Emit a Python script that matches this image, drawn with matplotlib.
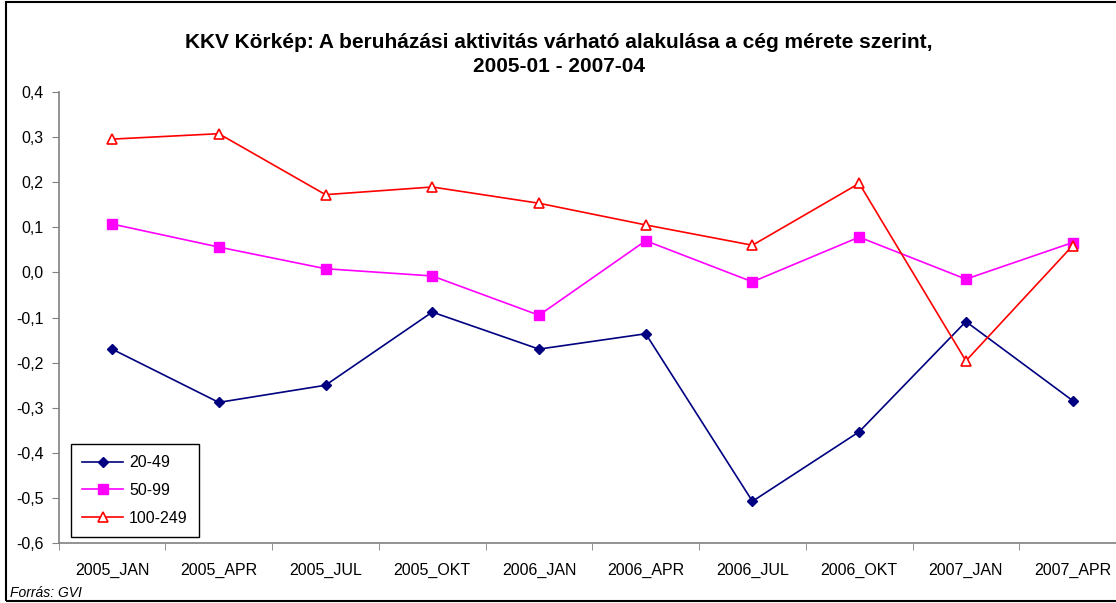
import matplotlib

matplotlib.use("Agg")
import matplotlib.pyplot as plt
from matplotlib.patches import Rectangle

plt.rcParams["font.family"] = ["Liberation Sans", "DejaVu Sans"]

categories = ["2005_JAN", "2005_APR", "2005_JUL", "2005_OKT", "2006_JAN",
              "2006_APR", "2006_JUL", "2006_OKT", "2007_JAN", "2007_APR"]
s_20_49 = [-0.170, -0.288, -0.250, -0.088, -0.170, -0.136, -0.507, -0.353, -0.109, -0.284]
s_50_99 = [0.107, 0.056, 0.008, -0.008, -0.095, 0.070, -0.021, 0.078, -0.015, 0.066]
s_100_249 = [0.295, 0.307, 0.172, 0.189, 0.153, 0.105, 0.060, 0.197, -0.196, 0.059]
y_ticks = [-0.6, -0.5, -0.4, -0.3, -0.2, -0.1, 0.0, 0.1, 0.2, 0.3, 0.4]
y_tick_labels = ["-0,6", "-0,5", "-0,4", "-0,3", "-0,2", "-0,1", "0,0", "0,1", "0,2", "0,3", "0,4"]

W, H = 1116, 603
fig = plt.figure(figsize=(W / 100, H / 100), dpi=100)

# outer chart frame (right side runs off the picture)
fig.patches.append(Rectangle((6 / W, 1 - 601 / H), 1.2, (601 - 2) / H,
                             transform=fig.transFigure, fill=False,
                             edgecolor="black", linewidth=1.5))

left, right, top, bottom = 58.7, 1126, 91.7, 543.3
ax = fig.add_axes([left / W, 1 - bottom / H, (right - left) / W, (bottom - top) / H])

x = list(range(len(categories)))
ax.plot(x, s_20_49, color="#000080", marker="D", markersize=5, linewidth=1.2, label="20-49")
ax.plot(x, s_50_99, color="#FF00FF", marker="s", markersize=6.5, linewidth=1.2, label="50-99")
ax.plot(x, s_100_249, color="#FF0000", marker="^", markersize=7, markerfacecolor="white",
        markeredgewidth=1.2, linewidth=1.2, label="100-249")

ax.set_xlim(-0.5, len(categories) - 0.5)
ax.set_ylim(-0.6, 0.4)
ax.set_yticks(y_ticks)
ax.set_yticklabels(y_tick_labels)
ax.set_xticks(x)
ax.set_xticklabels(categories)
ax.set_xticks([i + 0.5 for i in range(-1, len(categories))], minor=True)
ax.tick_params(axis="x", which="major", length=0, pad=14, labelsize=11.5)
ax.tick_params(axis="x", which="minor", length=5, color="#808080", direction="out")
ax.tick_params(axis="y", length=5, color="#808080", labelsize=11.5, pad=6)

for side in ("top", "right"):
    ax.spines[side].set_visible(False)
for side in ("left", "bottom"):
    ax.spines[side].set_color("#808080")
    ax.spines[side].set_linewidth(1.2)

leg = ax.legend(loc="upper left", bbox_to_anchor=((70.7 - left) / (right - left), (bottom - 444) / (bottom - top)),
                fontsize=11.5, frameon=True, fancybox=False, framealpha=1,
                edgecolor="black", handlelength=2.6, handletextpad=0.35,
                borderpad=0.7, labelspacing=0.8, borderaxespad=0)
leg.get_frame().set_linewidth(1.0)

fig.text(559 / W, 1 - 42 / H, "KKV Körkép: A beruházási aktivitás várható alakulása a cég mérete szerint,",
         ha="center", va="center", fontsize=15, fontweight="bold")
fig.text(559 / W, 1 - 67 / H, "2005-01 - 2007-04",
         ha="center", va="center", fontsize=15, fontweight="bold")
fig.text(10 / W, 1 - 593 / H, "Forrás: GVI", ha="left", va="center", fontsize=10, fontstyle="italic")

fig.savefig("out.png", dpi=100)
